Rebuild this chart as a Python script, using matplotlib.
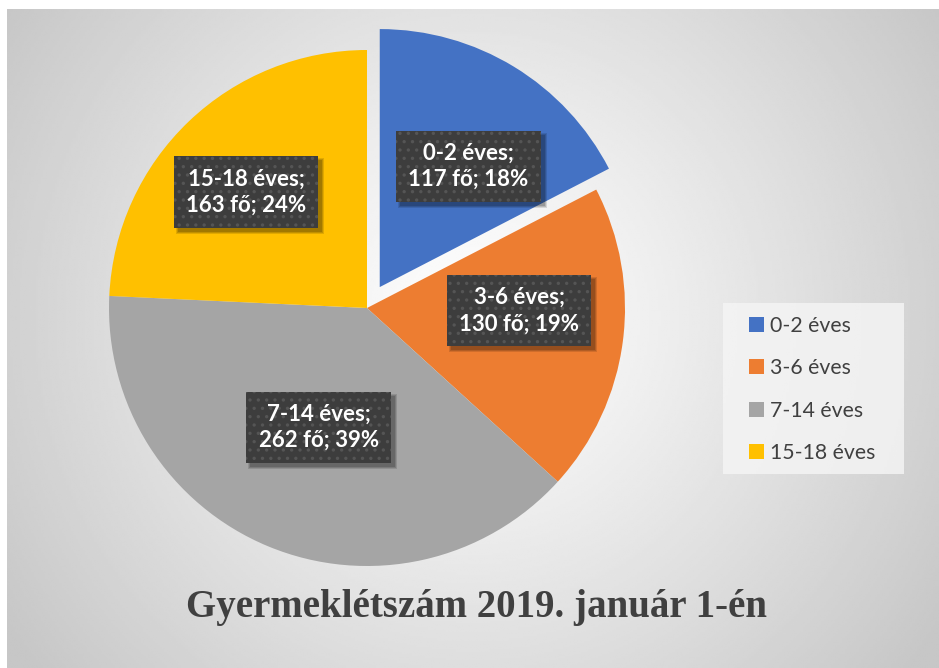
"""
Pie chart: Gyermeklétszám 2019. január 1-én
"""

import numpy as np
import matplotlib
matplotlib.use("Agg")
import matplotlib.pyplot as plt
from matplotlib.patches import Patch, Rectangle

# Data
categories = ["0-2 éves", "3-6 éves", "7-14 éves", "15-18 éves"]
counts = [117, 130, 262, 163]
percents = [18, 19, 39, 24]
colors = ["#4472C4", "#ED7D31", "#A5A5A5", "#FFC000"]
title = "Gyermeklétszám 2019. január 1-én"

W, H = 939, 668
plt.rcParams["hatch.linewidth"] = 1.2

fig = plt.figure(figsize=(W / 100, H / 100), dpi=100)
ax = fig.add_axes([0, 0, 1, 1])

# radial grey background of the chart area
x0, x1, y0, y1 = 7, W, 0, H - 9
gx, gy = np.meshgrid(np.linspace(x0, x1, 400), np.linspace(y0, y1, 300))
cx, cy = (x0 + x1) / 2, (y0 + y1) / 2 + 20
d = np.hypot(gx - cx, gy - cy) / np.hypot(x1 - cx, y1 - cy)
shade = 1.0 - 0.22 * np.clip(d, 0, 1) ** 1.1
ax.imshow(shade, extent=[x0, x1, y0, y1], origin="lower", cmap="gray",
          vmin=0, vmax=1, zorder=0, interpolation="bilinear")

# pie (explode is in data units here)
center = (367, H - 308)
radius = 258
wedges, _ = ax.pie(counts, colors=colors, startangle=90, counterclock=False,
                   explode=[24.5, 0, 0, 0], center=center, radius=radius,
                   wedgeprops=dict(linewidth=0))
for w in wedges:
    w.set_zorder(2)

# pie() resets the limits, so set them again
ax.set_xlim(0, W)
ax.set_ylim(0, H)
ax.set_aspect("auto")
ax.axis("off")

# data labels (dark boxes with dotted texture)
label_frac = [0.58, 0.59, 0.50, 0.65]
label_dang = [-5.0, 6.5, 0.5, 2.5]
labels = []
for w, cat, n, p, fr, da in zip(wedges, categories, counts, percents,
                                label_frac, label_dang):
    ang = np.deg2rad((w.theta1 + w.theta2) / 2 + da)
    lx = w.center[0] + fr * radius * np.cos(ang)
    ly = w.center[1] + fr * radius * np.sin(ang)
    t = ax.text(lx, ly, f"{cat};\n{n} fő; {p}%", color="white", zorder=4,
                ha="center", va="center", fontsize=16, fontweight="bold",
                family="Lato", linespacing=1.3,
                bbox=dict(boxstyle="square,pad=0.55", facecolor="#3d3d3d",
                          edgecolor="#555555", linewidth=0, hatch=".."))
    labels.append(t)

# drop shadows under the label boxes
fig.canvas.draw()
inv = ax.transData.inverted()
for t in labels:
    bb = t.get_bbox_patch().get_window_extent()
    for k, a in ((0, 0.12), (1, 0.14), (2, 0.16)):
        (bx0, by0), (bx1, by1) = inv.transform([(bb.x0 + 2 + k, bb.y0 - 6 + k),
                                                (bb.x1 + 6 - k, bb.y1 - 2 - k)])
        ax.add_patch(Rectangle((bx0, by0), bx1 - bx0, by1 - by0,
                               facecolor="black", alpha=a, linewidth=0,
                               zorder=3))

# legend
ax.add_patch(Rectangle((723, H - 474), 181, 171, facecolor="#f4f4f4",
                       edgecolor="none", alpha=0.85, zorder=1))
handles = [Patch(facecolor=c, edgecolor="none", label=l)
           for c, l in zip(colors, categories)]
leg = ax.legend(handles=handles, loc="upper left", frameon=False,
                bbox_to_anchor=(749, H - 316), bbox_transform=ax.transData,
                borderpad=0, borderaxespad=0,
                prop=dict(family="Lato", size=15.3),
                handlelength=0.7, handleheight=0.7, handletextpad=0.3,
                labelspacing=1.05, labelcolor="#404040")
leg.set_zorder(5)

# title
ax.text(476, H - 607, title, ha="center", va="center", fontsize=28,
        fontweight="bold", family="Liberation Serif", color="#404040", zorder=5)

fig.savefig("out.png", dpi=100, facecolor="white")
